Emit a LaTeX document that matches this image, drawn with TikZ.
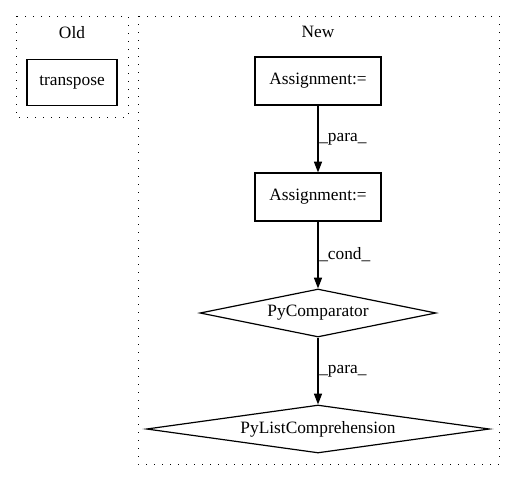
\documentclass[tikz,border=0pt]{standalone}
\usepackage{fontspec}
\setmainfont{Liberation Serif}
\usetikzlibrary{shapes.geometric,arrows.meta}
\begin{document}
\begin{tikzpicture}[x=0.75pt,y=-0.75pt,
  every node/.style={font=\fontsize{13}{15}\selectfont},
  cluster/.style={draw,line width=0.75pt,dash pattern=on 0.75pt off 5.25pt},
  boxnode/.style={draw,line width=0.9pt,rectangle,inner sep=0pt,minimum width=126*0.75pt,minimum height=48*0.75pt},
  dnode/.style={draw,line width=0.9pt,diamond,aspect=5,inner sep=0pt,minimum height=48*0.75pt},
  edge/.style={draw,line width=0.9pt,-{Triangle[length=8pt,width=6pt]}},
  elabel/.style={right,inner sep=0pt,xshift=0.5pt}]
\useasboundingbox (0,0) rectangle (515,480);
% clusters
\draw[cluster] (16,16) rectangle (128,117);
\node (oldlabel) at (72,33) {Old};
\draw[cluster] (138,16) rectangle (499,464);
\node (newlabel) at (318,32) {New};
% nodes
\node[boxnode,minimum width=90*0.75pt,minimum height=46*0.75pt] (tr) at (72,82.5) {transpose};
\node[boxnode] (a1) at (318,81) {Assignment:=};
\node[boxnode] (a2) at (318,197) {Assignment:=};
\node[dnode,minimum width=236*0.75pt] (pc) at (318,313) {PyComparator};
\node[dnode,minimum width=343*0.75pt] (plc) at (318,429) {PyListComprehension};
% edges
\draw[edge] (a1) -- node[elabel] {\_para\_} (a2);
\draw[edge] (a2) -- node[elabel] {\_cond\_} (pc);
\draw[edge] (pc) -- node[elabel] {\_para\_} (plc);
\end{tikzpicture}
\end{document}
